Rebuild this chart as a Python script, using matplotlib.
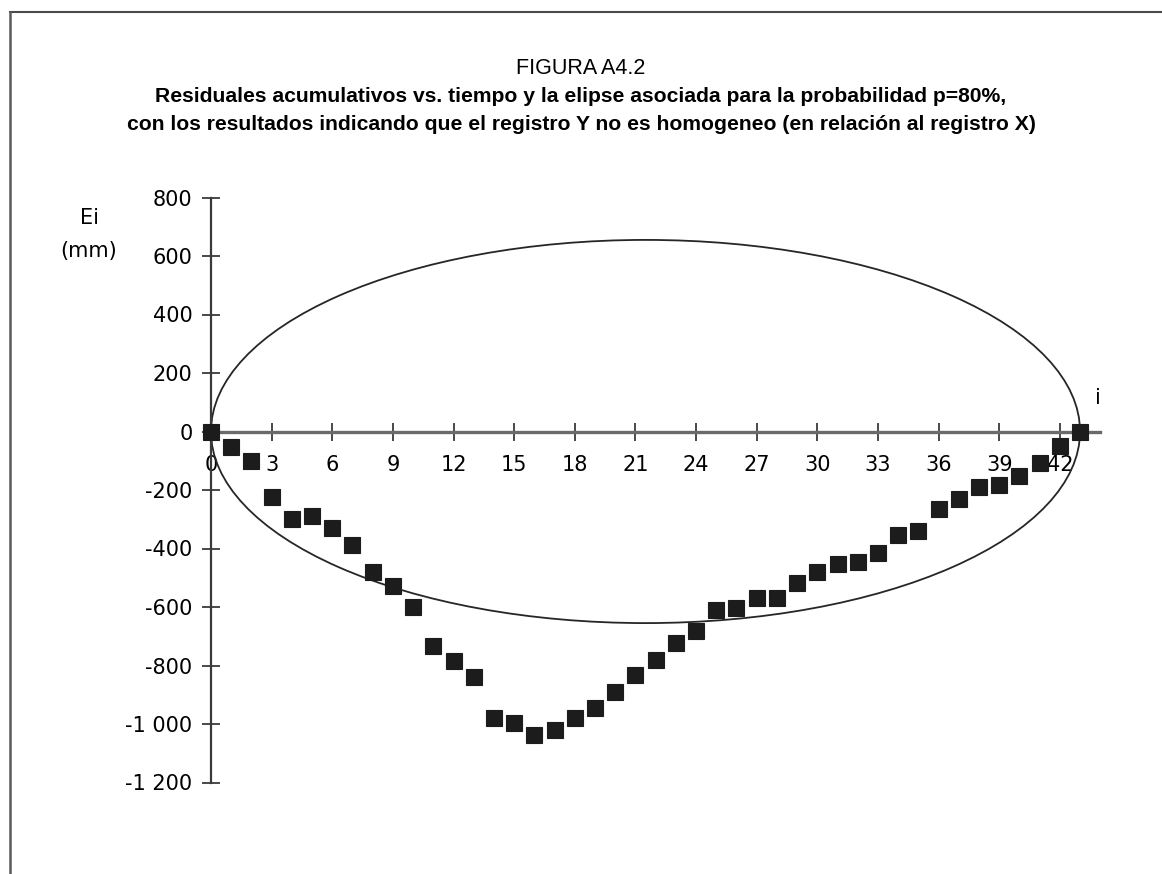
import matplotlib
matplotlib.use("Agg")
import matplotlib.pyplot as plt
from matplotlib.patches import Ellipse
from matplotlib.lines import Line2D

# ---------------- data ----------------
i_values = list(range(44))
residuals = [0, -52, -101, -225, -298, -290, -330, -389, -479, -528,
             -601, -733, -784, -839, -979, -996, -1038, -1021, -980, -946,
             -889, -832, -781, -724, -681, -610, -604, -570, -570, -519,
             -479, -453, -447, -414, -355, -339, -265, -232, -191, -184,
             -151, -109, -50, 0]
ellipse_center_i = 21.5
ellipse_half_width = 21.5
ellipse_half_height = 655

x_ticks = [0, 3, 6, 9, 12, 15, 18, 21, 24, 27, 30, 33, 36, 39, 42]
y_ticks = [800, 600, 400, 200, 0, -200, -400, -600, -800, -1000, -1200]
y_tick_labels = ["800", "600", "400", "200", "0", "-200", "-400", "-600",
                 "-800", "-1 000", "-1 200"]

title_top = "FIGURA A4.2"
title_l1 = "Residuales acumulativos vs. tiempo y la elipse asociada para la probabilidad p=80%,"
title_l2 = "con los resultados indicando que el registro Y no es homogeneo (en relación al registro X)"

# ---------------- figure ----------------
W, H = 1162, 874
fig = plt.figure(figsize=(W / 100, H / 100), dpi=100)

# axes placement in pixels: x_px = 211 + 20.21*i ; y_px = 431.5 - 0.2925*v
xlim = (-2, 45)
ylim = (-1300, 900)
def xpx(i):
    return 211 + 20.21 * i
def ypx(v):
    return 431.5 - 0.2925 * v
left = xpx(xlim[0]) / W
right = xpx(xlim[1]) / W
top = 1 - ypx(ylim[1]) / H
bottom = 1 - ypx(ylim[0]) / H
ax = fig.add_axes([left, bottom, right - left, top - bottom])
ax.set_xlim(*xlim)
ax.set_ylim(*ylim)
ax.patch.set_alpha(0)

for s in ["top", "right"]:
    ax.spines[s].set_visible(False)
ax.spines["left"].set_position(("data", 0))
ax.spines["bottom"].set_position(("data", 0))
ax.spines["left"].set_bounds(-1200, 800)
ax.spines["bottom"].set_bounds(0, 44)
ax.spines["left"].set_color("#3a3a3a")
ax.spines["left"].set_linewidth(1.6)
ax.spines["bottom"].set_color("#6a6a6a")
ax.spines["bottom"].set_linewidth(2.4)

ax.set_xticks(x_ticks)
ax.set_xticklabels([str(t) for t in x_ticks])
ax.set_yticks(y_ticks)
ax.set_yticklabels(y_tick_labels)
ax.tick_params(axis="both", direction="inout", length=12.5, width=1.3,
               color="#3a3a3a", labelsize=15, labelcolor="black")
ax.tick_params(axis="y", pad=7)
ax.tick_params(axis="x", pad=11)
ax.set_zorder(1)

ell = Ellipse((ellipse_center_i, 0), 2 * ellipse_half_width, 2 * ellipse_half_height,
              fill=False, edgecolor="#262626", linewidth=1.3, zorder=2)
ax.add_patch(ell)

ax.plot(i_values, residuals, linestyle="none", marker="s", markersize=11.5,
        markerfacecolor="#1c1c1c", markeredgecolor="#1c1c1c",
        markeredgewidth=0.8, zorder=3, clip_on=False)

# axis labels
fig.text(90 / W, 1 - 218 / H, "Ei", ha="center", va="center", fontsize=15)
fig.text(89 / W, 1 - 251 / H, "(mm)", ha="center", va="center", fontsize=15)
fig.text(1098 / W, 1 - 398 / H, "i", ha="center", va="center", fontsize=15)

# titles
tfam = ["Liberation Sans", "DejaVu Sans"]
fig.text(0.5, 1 - 68 / H, title_top, ha="center", va="center",
         fontsize=15.5, family=tfam)
fig.text(0.5, 1 - 97 / H, title_l1, ha="center", va="center",
         fontsize=15.2, fontweight="bold", family=tfam)
fig.text(0.5, 1 - 125 / H, title_l2, ha="center", va="center",
         fontsize=15.2, fontweight="bold", family=tfam)

# frame lines
fig.add_artist(Line2D([10 / W, 1.0], [1 - 12 / H, 1 - 12 / H],
                      transform=fig.transFigure, color="#4a4a4a", linewidth=1.5))
fig.add_artist(Line2D([10 / W, 10 / W], [1 - 12 / H, 0.0],
                      transform=fig.transFigure, color="#5a5a5a", linewidth=1.8))

fig.savefig("out.png", dpi=100)
